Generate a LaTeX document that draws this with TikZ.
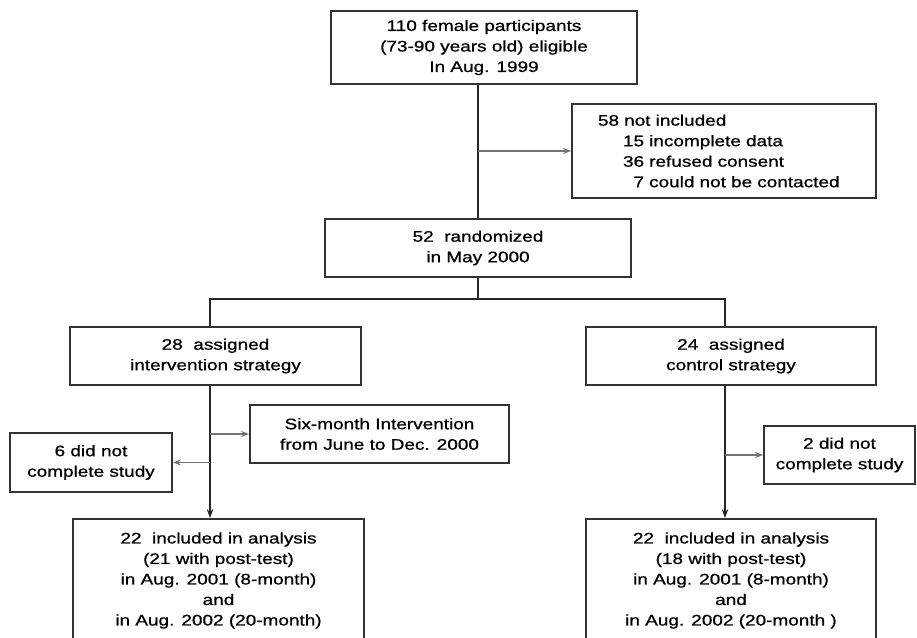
\documentclass[tikz,border=0pt]{standalone}
\usepackage{fontspec}
\setmainfont[FakeStretch=1.24,FakeBold=0.8]{Liberation Sans}
\usetikzlibrary{positioning,arrows.meta}

\tikzset{
  box/.style={draw=black!80, line width=1.8pt, align=center, inner sep=0pt,
    font=\fontsize{15.3}{20.5}\selectfont},
  trunk/.style={draw=black!85, line width=1.8pt},
  down/.style={trunk, -{Stealth[length=9pt,width=6.5pt]}},
  side/.style={draw=black!55, line width=1.5pt, -{Stealth[length=8pt,width=6pt]}}
}

\begin{document}
\begin{tikzpicture}[x=1pt,y=-1pt]
    \useasboundingbox (0,0) rectangle (917,637);
    \clip (0,0) rectangle (917,637);

    \node[box, minimum width=306, minimum height=73] (eligible) at (484,47.5)
      {110 female participants\\(73-90 years old) eligible\\In Aug. 1999};
    \node[box, text width=252, inner xsep=26, minimum height=94, align=left] (excluded) at (724,151)
      {58 not included\\
       \hspace*{25pt}15 incomplete data\\
       \hspace*{25pt}36 refused consent\\
       \hspace*{35.5pt}7 could not be contacted};
    \node[box, minimum width=306, minimum height=58] (randomized) at (478,248)
      {52\ \ randomized\\in May 2000};

    \coordinate (armL) at (210,299);
    \coordinate (armR) at (725,299);

    \node[box, minimum width=291, minimum height=58] (interv)  at (215.5,356)
      {28\ \ assigned\\intervention strategy};
    \node[box, minimum width=290, minimum height=58] (control) at (731,356)
      {24\ \ assigned\\control strategy};
    \node[box, minimum width=259, minimum height=58] (sixmonth) at (379.5,434)
      {Six-month Intervention\\from June to Dec. 2000};
    \node[box, minimum width=162, minimum height=59] (dropL) at (91,462.5)
      {6 did not\\complete study};
    \node[box, minimum width=151, minimum height=58] (dropR) at (839.5,455)
      {2 did not\\complete study};
    \node[box, minimum width=291, minimum height=123] (analysisL) at (218.5,580.5)
      {22\ \ included in analysis\\(21 with post-test)\\in Aug. 2001 (8-month)\\and\\in Aug. 2002 (20-month)};
    \node[box, minimum width=290, minimum height=123] (analysisR) at (731,580.5)
      {22\ \ included in analysis\\(18 with post-test)\\in Aug. 2001 (8-month)\\and\\in Aug. 2002 (20-month )};

    \draw[trunk] (eligible.south -| randomized.north) -- (randomized.north);
    \draw[side]  (excluded.west -| randomized.north) -- (excluded.west);
    \draw[trunk] (randomized.south) -- (randomized.south |- armL);
    \draw[trunk] (interv.north -| armL) -- (armL) -- (armR) -- (control.north -| armR);

    \draw[down] (interv.south -| armL)  -- (analysisL.north -| armL);
    \draw[down] (control.south -| armR) -- (analysisR.north -| armR);
    \draw[side] (sixmonth.west -| armL) -- (sixmonth.west);
    \draw[side] (dropL.east -| armL)    -- (dropL.east);
    \draw[side] (dropR.west -| armR)    -- (dropR.west);
\end{tikzpicture}
\end{document}
